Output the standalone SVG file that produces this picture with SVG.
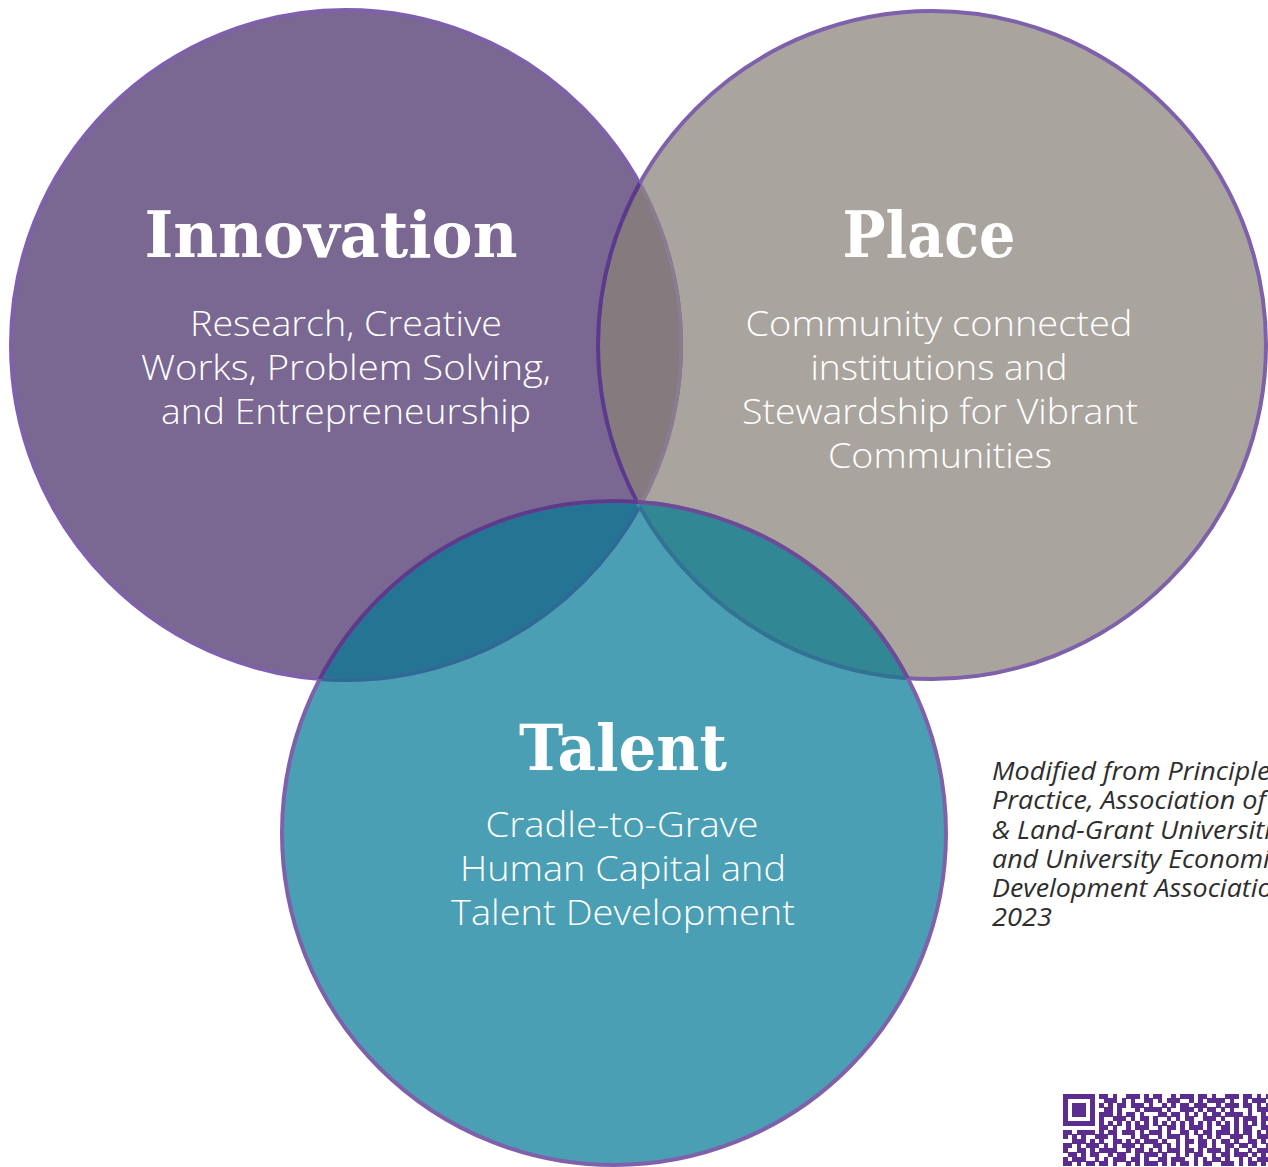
<svg xmlns="http://www.w3.org/2000/svg" width="1268" height="1167" viewBox="0 0 1268 1167">
<style>
.title{font-family:"DejaVu Serif","Liberation Serif",serif;font-weight:bold;font-size:64px;fill:#ffffff;text-anchor:middle}
.body{font-family:"Open Sans","Lato","Liberation Sans",sans-serif;font-weight:300;font-size:34px;fill:#ffffff;text-anchor:middle}
.note{font-family:"Open Sans","Lato","Liberation Sans",sans-serif;font-style:italic;font-weight:400;font-size:25px;fill:#2e2e2e}
.ring{fill:none;stroke-width:4}
.qr line{stroke:#5b2d8e;stroke-width:1.02}
</style>
<defs>
<circle id="cirI" cx="346" cy="345" r="335"/>
<circle id="cirP" cx="932" cy="345" r="334"/>
<circle id="cirT" cx="614" cy="833" r="332"/>
<clipPath id="clipI"><use href="#cirI"/></clipPath>
<clipPath id="clipP"><use href="#cirP"/></clipPath>
<clipPath id="clipT"><use href="#cirT"/></clipPath>
</defs>
<rect width="1268" height="1167" fill="#ffffff"/>

<g id="fills">
<use href="#cirI" fill="#7a6892"/>
<use href="#cirP" fill="#a9a59e"/>
<use href="#cirT" fill="#4a9fb4"/>
<use href="#cirP" fill="#857b7f" clip-path="url(#clipI)"/>
<use href="#cirT" fill="#237593" clip-path="url(#clipI)"/>
<use href="#cirT" fill="#328795" clip-path="url(#clipP)"/>
<g clip-path="url(#clipI)"><use href="#cirT" fill="#4a9fb4" clip-path="url(#clipP)"/></g>
</g>

<g id="rings">
<use href="#cirI" class="ring" stroke="#7f60ab"/>
<use href="#cirI" class="ring" stroke="#8b7c8e" clip-path="url(#clipP)"/>
<use href="#cirI" class="ring" stroke="#2a6c93" clip-path="url(#clipT)"/>
<g clip-path="url(#clipP)"><use href="#cirI" class="ring" stroke="#3b8bab" clip-path="url(#clipT)"/></g>
<use href="#cirP" class="ring" stroke="#7f60ab"/>
<use href="#cirP" class="ring" stroke="#5b3a8c" clip-path="url(#clipI)"/>
<use href="#cirP" class="ring" stroke="#2d7592" clip-path="url(#clipT)"/>
<g clip-path="url(#clipI)"><use href="#cirP" class="ring" stroke="#3b8bab" clip-path="url(#clipT)"/></g>
<use href="#cirT" class="ring" stroke="#7f60ab"/>
<use href="#cirT" class="ring" stroke="#5d3b8b" clip-path="url(#clipI)"/>
<use href="#cirT" class="ring" stroke="#6d4c97" clip-path="url(#clipP)"/>
</g>

<g id="connectors"></g>

<g id="innovation">
<text class="title" x="331" y="257" textLength="373" lengthAdjust="spacingAndGlyphs">Innovation</text>
<text class="body" x="346" y="336" textLength="312" lengthAdjust="spacingAndGlyphs">Research, Creative</text>
<text class="body" x="346" y="380" textLength="410" lengthAdjust="spacingAndGlyphs">Works, Problem Solving,</text>
<text class="body" x="346" y="424" textLength="370" lengthAdjust="spacingAndGlyphs">and Entrepreneurship</text>
</g>

<g id="place">
<text class="title" x="929" y="257" textLength="173" lengthAdjust="spacingAndGlyphs">Place</text>
<text class="body" x="939" y="336" textLength="387" lengthAdjust="spacingAndGlyphs">Community connected</text>
<text class="body" x="939" y="380" textLength="257" lengthAdjust="spacingAndGlyphs">institutions and</text>
<text class="body" x="940" y="424" textLength="396" lengthAdjust="spacingAndGlyphs">Stewardship for Vibrant</text>
<text class="body" x="940" y="468" textLength="224" lengthAdjust="spacingAndGlyphs">Communities</text>
</g>

<g id="talent">
<text class="title" x="623" y="770" textLength="208" lengthAdjust="spacingAndGlyphs">Talent</text>
<text class="body" x="622" y="837" textLength="273" lengthAdjust="spacingAndGlyphs">Cradle-to-Grave</text>
<text class="body" x="623" y="881" textLength="326" lengthAdjust="spacingAndGlyphs">Human Capital and</text>
<text class="body" x="623" y="925" textLength="344" lengthAdjust="spacingAndGlyphs">Talent Development</text>
</g>

<g id="source-note">
<text class="note" x="992" y="780" textLength="290" lengthAdjust="spacingAndGlyphs">Modified from Principles</text>
<text class="note" x="992" y="809" textLength="274" lengthAdjust="spacingAndGlyphs">Practice, Association of</text>
<text class="note" x="992" y="839" textLength="304" lengthAdjust="spacingAndGlyphs">&amp; Land-Grant Universities</text>
<text class="note" x="992" y="868" textLength="290" lengthAdjust="spacingAndGlyphs">and University Economic</text>
<text class="note" x="992" y="897" textLength="296" lengthAdjust="spacingAndGlyphs">Development Association</text>
<text class="note" x="992" y="926" textLength="60" lengthAdjust="spacingAndGlyphs">2023</text>
</g>

<g id="qr-code" class="qr" transform="translate(1063,1094) scale(4.5)" shape-rendering="crispEdges">
<line x1="0" y1="0.5" x2="46" y2="0.5" stroke-dasharray="7 1 2 1 1 2 3 1 1 1 2 2 1 1 3 1 2 1 1 2 3 1 2 1 1 1 1 0"/>
<line x1="0" y1="1.5" x2="46" y2="1.5" stroke-dasharray="1 5 1 2 3 1 1 1 1 2 2 1 1 1 3 2 1 1 1 1 4 1 1 2 1 1 3 1"/>
<line x1="0" y1="2.5" x2="46" y2="2.5" stroke-dasharray="1 1 3 1 1 1 1 1 1 1 2 1 3 1 1 2 1 1 1 1 2 1 3 2 1 1 3 1 2 1 1 1 1 0"/>
<line x1="0" y1="3.5" x2="46" y2="3.5" stroke-dasharray="1 1 3 1 1 2 2 1 1 3 1 1 4 1 1 2 3 1 1 1 2 1 1 1 1 3 1 1 3 0"/>
<line x1="0" y1="4.5" x2="46" y2="4.5" stroke-dasharray="1 1 3 1 1 1 3 1 1 1 2 1 1 3 2 1 2 1 1 1 1 1 1 1 2 1 4 1 1 2 1 1"/>
<line x1="0" y1="5.5" x2="46" y2="5.5" stroke-dasharray="1 5 1 1 1 2 3 1 1 1 2 1 1 2 1 1 1 1 2 2 3 1 1 2 1 1 3 1 2 0"/>
<line x1="0" y1="6.5" x2="7" y2="6.5"/>
<line x1="8" y1="6.5" x2="46" y2="6.5" stroke-dasharray="1 1"/>
<line x1="8" y1="7.5" x2="46" y2="7.5" stroke-dasharray="2 1 1 2 1 1 3 2 1 1 2 1 1 1 3 1 1 2 2 1 1 1 2 2 2 0"/>
<line x1="0" y1="8.5" x2="46" y2="8.5" stroke-dasharray="2 1 4 1 1 1 2 1 3 1 1 1 3 1 1 2 2 1 1 1 2 1 3 1 1 1 2 1 1 1 1 0"/>
<line x1="0" y1="9.5" x2="46" y2="9.5" stroke-dasharray="1 1 1 1 1 2 3 1 1 3 1 1 2 2 1 1 3 1 1 2 1 1 1 1 1 2 3 1 1 1 3 0"/>
<line x1="2" y1="10.5" x2="46" y2="10.5" stroke-dasharray="3 1 1 1 1 2 2 1 1 1 1 1 3 1 1 2 1 1 2 1 2 1 1 1 2 1 1 2 2 1 1 1"/>
<line x1="0" y1="11.5" x2="46" y2="11.5" stroke-dasharray="2 1 1 1 3 1 1 1 1 1 3 1 1 2 2 1 1 1 1 1 1 2 2 1 1 2 2 1 2 1 1 2 1 0"/>
<line x1="0" y1="12.5" x2="46" y2="12.5" stroke-dasharray="1 2 2 1 1 1 4 2 1 1 2 1 1 1 1 1 3 1 2 1 1 1 3 1 1 1 1 2 1 1 3 0"/>
<line x1="1" y1="13.5" x2="46" y2="13.5" stroke-dasharray="2 1 1 1 2 2 1 1 2 2 1 1 3 1 1 2 1 1 1 1 2 2 1 1 2 1 3 1 1 1 1 1"/>
<line x1="0" y1="14.5" x2="46" y2="14.5" stroke-dasharray="1 1 3 2 1 1 1 1 3 1 2 1 1 2 2 1 3 2 1 1 1 1 2 1 1 2 1 1 1 1 3 0"/>
<line x1="0" y1="15.5" x2="46" y2="15.5" stroke-dasharray="2 1 1 1 2 1 2 1 1 2 1 1 1 1 3 1 1 1 1 1 2 1 1 1 2 2 3 1 1 1 2 1 1 1"/>
</g>
</svg>
